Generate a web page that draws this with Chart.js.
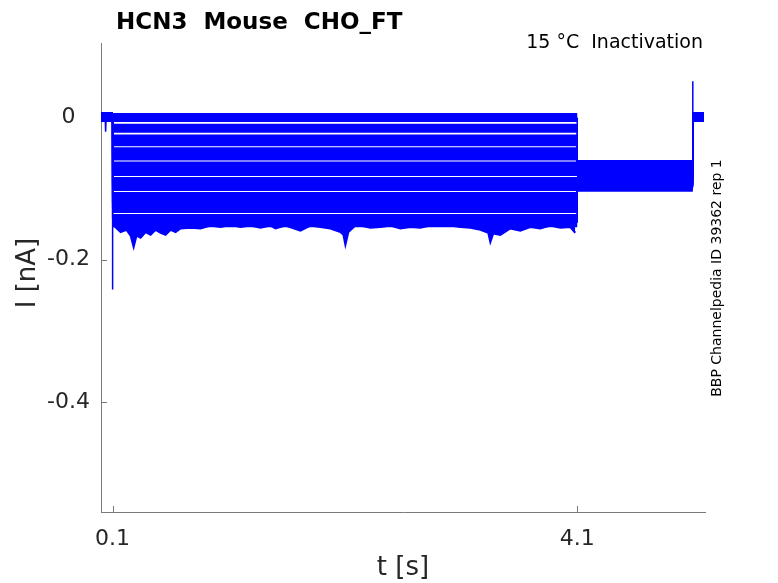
<!DOCTYPE html>
<html>
<head>
<meta charset="utf-8">
<script src="https://cdn.jsdelivr.net/npm/chart.js@4.4.1/dist/chart.umd.min.js"></script>
<style>
  html, body { margin: 0; padding: 0; background: #fff; }
  canvas { display: block; }
</style>
</head>
<body>
<canvas id="chart" width="778" height="583"></canvas>
<script>
// sweep timing [s]
const tPulse = 0.1;
const tStep = 4.1;
const tBack = 5.095;
const tEnd = 5.19;

// current during the long pulse, one value per sweep [nA]
const pulseLevels = [0, -0.015, -0.030, -0.034, -0.048, -0.054, -0.068, -0.076, -0.090, -0.097, -0.111, -0.120, -0.128, -0.142, -0.148];
// current after the step, one value per sweep [nA]
const stepLevels = [-0.066, -0.068, -0.071, -0.073, -0.075, -0.078, -0.080, -0.082, -0.084, -0.087, -0.089, -0.091, -0.094, -0.096, -0.098];
const holdLevel = 0.001;
const onsetSpike = -0.242;
const offsetSpike = 0.051;
const preDipT = [0.036, 0.040, 0.044];
const preDipI = [0.001, -0.020, 0.001];

// lower noisy edge of the pulse traces
const lowEdgeT = [0.109, 0.169, 0.220, 0.255, 0.281, 0.306, 0.341, 0.384, 0.427, 0.470, 0.513, 0.556, 0.599, 0.642, 0.685, 0.771, 0.857, 0.943, 1.029, 1.115, 1.201, 1.287, 1.373, 1.459, 1.502, 1.588, 1.717, 1.803, 1.889, 1.975, 2.061, 2.087, 2.104, 2.130, 2.190, 2.233, 2.319, 2.405, 2.491, 2.577, 2.663, 2.749, 2.835, 2.922, 3.008, 3.094, 3.180, 3.266, 3.334, 3.352, 3.377, 3.438, 3.524, 3.610, 3.696, 3.782, 3.868, 3.954, 4.040, 4.083];
const lowEdgeI = [-0.152, -0.161, -0.158, -0.166, -0.182, -0.166, -0.169, -0.161, -0.165, -0.158, -0.162, -0.165, -0.158, -0.161, -0.156, -0.155, -0.156, -0.152, -0.154, -0.151, -0.154, -0.152, -0.155, -0.152, -0.156, -0.152, -0.159, -0.152, -0.154, -0.156, -0.161, -0.165, -0.179, -0.161, -0.152, -0.152, -0.155, -0.154, -0.152, -0.156, -0.154, -0.155, -0.152, -0.152, -0.152, -0.154, -0.155, -0.158, -0.162, -0.175, -0.163, -0.165, -0.156, -0.159, -0.154, -0.156, -0.152, -0.155, -0.154, -0.162];

const xTicks = [0.1, 4.1];
const yTicks = [-0.4, -0.2, 0];

const traceColor = '#0000ff';
const axisColor = '#7a7a7a';
const textColor = '#262626';
const fontFamily = '"DejaVu Sans", sans-serif';

function sweep(i) {
    const pts = [{x: 0, y: holdLevel}];
    if (i === 0) {
        preDipT.forEach((t, k) => pts.push({x: t, y: preDipI[k]}));
    }
    pts.push({x: tPulse, y: holdLevel});
    if (i === pulseLevels.length - 1) pts.push({x: tPulse, y: onsetSpike});
    pts.push({x: tPulse, y: pulseLevels[i]});
    pts.push({x: tStep, y: pulseLevels[i]});
    pts.push({x: tStep, y: stepLevels[i]});
    pts.push({x: tBack, y: stepLevels[i]});
    if (i === 0) pts.push({x: tBack, y: offsetSpike});
    pts.push({x: tBack, y: holdLevel});
    pts.push({x: tEnd, y: holdLevel});
    return pts;
}

// jumps are thin, noisy plateaus thick
const thinJump = ctx => Math.abs(ctx.p1.parsed.x - ctx.p0.parsed.x) < 0.01 ? 1.5 : 9;

const datasets = pulseLevels.map((lvl, i) => ({
    data: sweep(i),
    borderColor: traceColor,
    borderWidth: 9,
    pointRadius: 0,
    tension: 0,
    fill: false,
    segment: {borderWidth: thinJump}
}));
// ragged lower edge, filled up to the lowest sweep
datasets.push({
    data: lowEdgeT.map((t, k) => ({x: t, y: lowEdgeI[k]})),
    borderColor: traceColor,
    backgroundColor: traceColor,
    borderWidth: 2,
    pointRadius: 0,
    tension: 0,
    fill: {target: {value: pulseLevels[pulseLevels.length - 1]}}
});

const decorations = {
    id: 'decorations',
    beforeDatasetsDraw(chart) {
        const {ctx, chartArea: a, scales: {x, y}} = chart;
        ctx.save();
        ctx.strokeStyle = axisColor;
        ctx.lineWidth = 1;
        ctx.beginPath();
        xTicks.forEach(v => {
            const px = Math.round(x.getPixelForValue(v)) + 0.5;
            ctx.moveTo(px, a.bottom);
            ctx.lineTo(px, a.bottom - 6);
        });
        yTicks.forEach(v => {
            const py = Math.round(y.getPixelForValue(v)) + 0.5;
            ctx.moveTo(a.left, py);
            ctx.lineTo(a.left + 6, py);
        });
        ctx.stroke();
        ctx.restore();
    },
    afterDraw(chart) {
        const {ctx} = chart;
        ctx.save();
        ctx.fillStyle = '#000';
        ctx.textAlign = 'left';
        ctx.textBaseline = 'alphabetic';
        ctx.font = 'bold 23px ' + fontFamily;
        ctx.fillText('HCN3  Mouse  CHO_FT', 116, 29);

        ctx.font = '19px ' + fontFamily;
        ctx.textAlign = 'right';
        ctx.fillText('15 °C  Inactivation', 703, 48);

        ctx.fillStyle = textColor;
        ctx.font = '26px ' + fontFamily;
        ctx.textAlign = 'center';
        ctx.textBaseline = 'middle';
        ctx.fillText('t [s]', 403, 568);

        ctx.save();
        ctx.translate(28, 273);
        ctx.rotate(-Math.PI / 2);
        ctx.fillText('I [nA]', 0, 0);
        ctx.restore();

        ctx.fillStyle = '#000';
        ctx.font = '14px ' + fontFamily;
        ctx.translate(717, 278);
        ctx.rotate(-Math.PI / 2);
        ctx.fillText('BBP Channelpedia ID 39362 rep 1', 0, 0);
        ctx.restore();
    }
};

new Chart(document.getElementById('chart'), {
    type: 'line',
    data: {datasets: datasets},
    options: {
        responsive: false,
        animation: false,
        devicePixelRatio: 1,
        layout: {padding: {left: 0, right: 73, top: 43, bottom: 0}},
        plugins: {
            legend: {display: false},
            title: {display: false},
            tooltip: {enabled: false}
        },
        scales: {
            x: {
                type: 'linear',
                min: 0,
                max: 5.2,
                afterFit: s => { s.height = 71; },
                afterBuildTicks: s => { s.ticks = xTicks.map(v => ({value: v})); },
                grid: {display: false, drawTicks: false},
                border: {display: true, color: axisColor, width: 1},
                ticks: {
                    color: textColor,
                    font: {family: fontFamily, size: 22},
                    padding: 14,
                    maxRotation: 0,
                    autoSkip: false,
                    callback: v => String(v)
                }
            },
            y: {
                type: 'linear',
                min: -0.555,
                max: 0.105,
                afterFit: s => { s.width = 101; },
                afterBuildTicks: s => { s.ticks = yTicks.map(v => ({value: v})); },
                grid: {display: false, drawTicks: false},
                border: {display: true, color: axisColor, width: 1},
                ticks: {
                    color: textColor,
                    font: {family: fontFamily, size: 22},
                    padding: 11,
                    crossAlign: 'center',
                    autoSkip: false,
                    callback: v => String(v)
                }
            }
        }
    },
    plugins: [decorations]
});
</script>
</body>
</html>
